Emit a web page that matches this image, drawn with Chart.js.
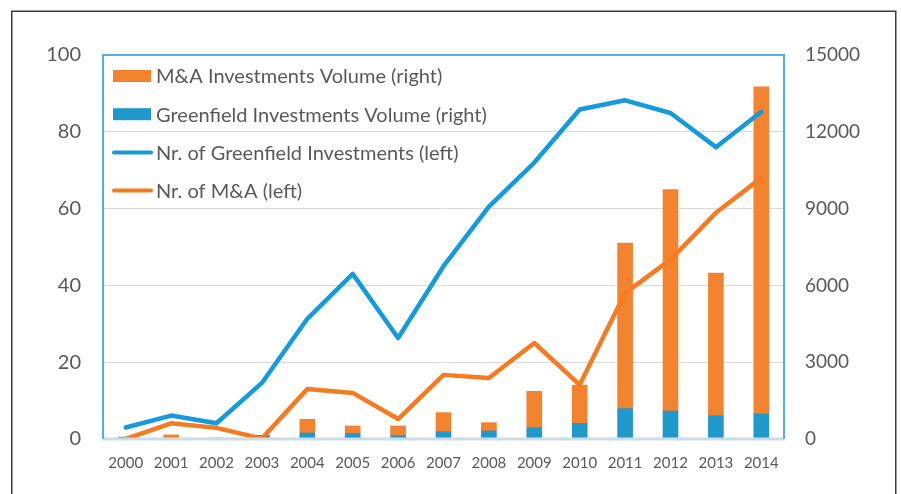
<!DOCTYPE html>
<html>
<head>
<meta charset="utf-8">
<script src="https://cdn.jsdelivr.net/npm/chart.js@4"></script>
<style>
  body { margin: 0; background: #fff; }
  canvas { display: block; }
</style>
</head>
<body>
<canvas id="myChart" width="901" height="494"></canvas>
<script>
const years = ["2000", "2001", "2002", "2003", "2004", "2005", "2006", "2007",
  "2008", "2009", "2010", "2011", "2012", "2013", "2014"];

// right axis (volume), stacked bars
const greenfieldVolume = [70, 30, 0, 140, 235, 210, 130, 285, 313, 442, 613, 1185, 1095, 912, 978];
const maVolume = [0, 130, 40, 0, 535, 300, 380, 745, 325, 1420, 1490, 6470, 8645, 5570, 12780];

// left axis (number of investments)
const nrGreenfield = [3.0, 6.1, 4.1, 14.6, 31.3, 43.0, 26.3, 45.0, 60.5, 72.0, 85.8, 88.2, 84.9, 76.0, 85.2];
const nrMA = [0, 4.1, 2.9, 0.1, 13.0, 12.0, 5.2, 16.7, 15.9, 25.0, 14.1, 38.0, 46.7, 58.9, 68.0];

const leftTicks = [0, 20, 40, 60, 80, 100];
const rightTicks = [0, 3000, 6000, 9000, 12000, 15000];

const textColor = "#595959";
const ctx = document.getElementById("myChart").getContext("2d");

// frame round the whole picture and round the plot area
const framePlugin = {
  id: "frames",
  afterDraw(chart) {
    const c = chart.ctx;
    const a = chart.chartArea;
    c.save();
    c.strokeStyle = "#3a3a3a";
    c.lineWidth = 1.5;
    c.strokeRect(11.75, 11.25, 884, 520);

    c.strokeStyle = "#c9dce8";
    c.lineWidth = 3;
    c.beginPath();
    c.moveTo(a.left, a.bottom);
    c.lineTo(a.right, a.bottom);
    c.stroke();

    c.strokeStyle = "#4fb1dc";
    c.lineWidth = 2;
    c.beginPath();
    c.moveTo(a.left, a.bottom);
    c.lineTo(a.left, a.top);
    c.lineTo(a.right, a.top);
    c.lineTo(a.right, a.bottom);
    c.stroke();
    c.restore();
  }
};

// legend drawn inside the plot, top left, in the original order
const legendPlugin = {
  id: "insideLegend",
  afterDraw(chart) {
    const c = chart.ctx;
    const order = [1, 0, 2, 3];
    c.save();
    c.font = "20px Lato";
    c.textBaseline = "middle";
    order.forEach((di, i) => {
      const ds = chart.data.datasets[di];
      const y = 76 + i * 38.2;
      if (ds.type === "bar") {
        c.fillStyle = ds.backgroundColor;
        c.fillRect(113, y - 6, 38, 12);
      } else {
        c.strokeStyle = ds.borderColor;
        c.lineWidth = 4;
        c.lineCap = "round";
        c.beginPath();
        c.moveTo(114, y);
        c.lineTo(151, y);
        c.stroke();
      }
      c.fillStyle = textColor;
      c.fillText(ds.label, 156, y + 1);
    });
    c.restore();
  }
};

const myChart = new Chart(ctx, {
  data: {
    labels: years,
    datasets: [
      {
        type: "bar",
        label: "Greenfield Investments Volume (right)",
        data: greenfieldVolume,
        backgroundColor: "#1f98cc",
        yAxisID: "y1",
        barThickness: 15,
        order: 2,
      },
      {
        type: "bar",
        label: "M&A Investments Volume (right)",
        data: maVolume,
        backgroundColor: "#f4832f",
        yAxisID: "y1",
        barThickness: 15,
        order: 2,
      },
      {
        type: "line",
        label: "Nr. of Greenfield Investments (left)",
        data: nrGreenfield,
        borderColor: "#139bdb",
        borderWidth: 4.5,
        pointRadius: 0,
        tension: 0,
        borderCapStyle: "round",
        borderJoinStyle: "round",
        yAxisID: "y",
        order: 1,
      },
      {
        type: "line",
        label: "Nr. of M&A (left)",
        data: nrMA,
        borderColor: "#f57a20",
        borderWidth: 4.5,
        pointRadius: 0,
        tension: 0,
        borderCapStyle: "round",
        borderJoinStyle: "round",
        yAxisID: "y",
        order: 1,
      },
    ],
  },
  options: {
    responsive: false,
    animation: false,
    layout: { padding: { top: 55, left: 0, right: 0, bottom: 0 } },
    plugins: {
      legend: { display: false },
      tooltip: { enabled: false },
    },
    scales: {
      x: {
        stacked: true,
        grid: { display: false, drawTicks: false },
        border: { display: false },
        ticks: {
          color: textColor,
          font: { family: "Lato", size: 15 },
          padding: 15,
          maxRotation: 0,
          autoSkip: false,
        },
        afterFit(scale) { scale.height = 55; },
      },
      y: {
        position: "left",
        min: 0,
        max: 100,
        afterBuildTicks(scale) { scale.ticks = leftTicks.map((v) => ({ value: v })); },
        grid: { color: "#d9d9d9", lineWidth: 1, drawTicks: false },
        border: { display: false },
        ticks: {
          color: textColor,
          font: { family: "Lato", size: 20 },
          padding: 22,
          callback: (v) => String(v),
        },
        afterFit(scale) { scale.width = 103; },
      },
      y1: {
        position: "right",
        stacked: true,
        min: 0,
        max: 15000,
        afterBuildTicks(scale) { scale.ticks = rightTicks.map((v) => ({ value: v })); },
        grid: { display: false, drawTicks: false },
        border: { display: false },
        ticks: {
          color: textColor,
          font: { family: "Lato", size: 19 },
          padding: 21,
          callback: (v) => String(v),
        },
        afterFit(scale) { scale.width = 117; },
      },
    },
  },
  plugins: [framePlugin, legendPlugin],
});
</script>
</body>
</html>
